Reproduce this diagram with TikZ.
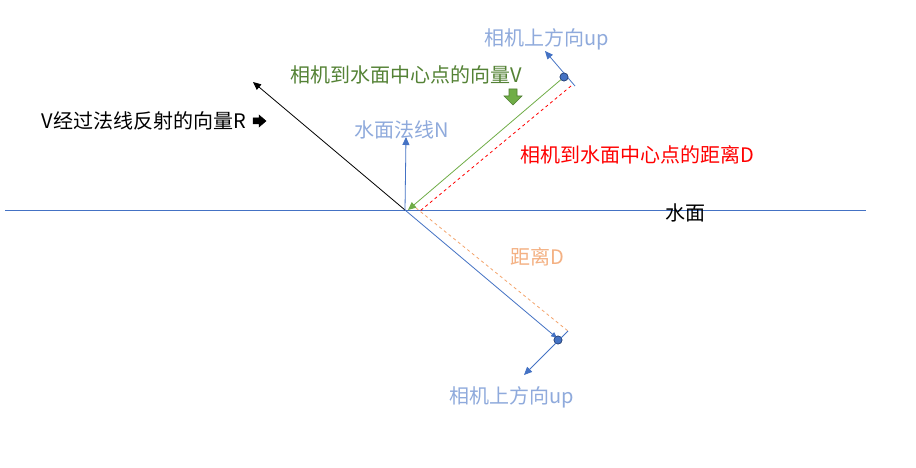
\documentclass[tikz,border=0pt]{standalone}
\usepackage{fontspec}
\setmainfont{Noto Sans CJK SC}
\usetikzlibrary{arrows.meta}
\definecolor{lineblue}{HTML}{4472C4}
\definecolor{lightblue}{HTML}{8FAADC}
\definecolor{vgreen}{HTML}{70AD47}
\definecolor{tgreen}{HTML}{548235}
\definecolor{dgreen}{HTML}{507E32}
\definecolor{torange}{HTML}{F4B183}
\definecolor{dorange}{HTML}{F4A46C}
\tikzset{
  lbl/.style={inner sep=0pt, font=\fontsize{20}{22}\selectfont},
  thin arrow/.style={-{Triangle[length=8pt,width=7pt]}, line width=0.8pt},
  cam/.style={circle, fill=lineblue, draw=lineblue!60!black, line width=0.6pt, minimum size=8pt, inner sep=0pt},
}
\begin{document}
\begin{tikzpicture}[x=1pt,y=-1pt]
\useasboundingbox[fill=white] (0,0) rectangle (916,468);
% key points
\coordinate (O) at (405,210);
\coordinate (Wl) at (5,210);
\coordinate (Wr) at (866,210);
\coordinate (Rtip) at (253,82);
\coordinate (Ntip) at (406,137);
\coordinate (Vtip) at (408,210);
\coordinate (Uup) at (545,51);
\coordinate (Uend) at (575,86);
\coordinate (RedA) at (571,86);
\coordinate (RedB) at (420,211);
\coordinate (Lcam) at (557,338);
\coordinate (Lend) at (568,331);
\coordinate (Ltip) at (524,375);
\coordinate (OrA) at (416,208);
\coordinate (OrB) at (568,331);
\node[cam] (C) at (564,77) {};
\node[cam] (C2) at (558,340) {};
% water surface
\draw[lineblue, line width=0.8pt] (Wl) -- (Wr);
% reflected vector R
\draw[black, thin arrow] (O) -- (Rtip);
% normal
\draw[lineblue, thin arrow] (O) -- (Ntip);
% red dashed distance
\draw[red, line width=0.8pt, dash pattern=on 3pt off 3pt] (RedA) -- (RedB);
% orange dashed distance
\draw[dorange, line width=0.8pt, dash pattern=on 3pt off 3pt] (OrA) -- (OrB);
% vector V
\draw[vgreen, thin arrow] (C) -- (Vtip);
% upper camera up
\draw[lineblue, thin arrow] (Uend) -- (Uup);
% lower reflected line
\draw[lineblue, -{Triangle[length=6pt,width=5pt]}, line width=0.8pt] (O) -- (Lcam);
\node[cam] at (C2) {};
\draw[lineblue, thin arrow] (Lend) -- (Ltip);
\node[cam] at (C) {};
% block arrows
\filldraw[fill=vgreen, draw=dgreen, line width=0.6pt]
  (509,89) -- (517,89) -- (517,96) -- (522,96) -- (513,105) -- (504,96) -- (509,96) -- cycle;
\filldraw[fill=black, draw=black, line width=0.5pt]
  (253,118) -- (259,118) -- (259,115) -- (266,121) -- (259,127) -- (259,124) -- (253,124) -- cycle;
% labels
\node[lbl, text=tgreen] (tV) at (406,75) {相机到水面中心点的向量V};
\node[lbl, text=lightblue] (tU1) at (547,39) {相机上方向up};
\node[lbl, text=lightblue] (tN) at (402,130) {水面法线N};
\node[lbl, text=red] (tD) at (637,155) {相机到水面中心点的距离D};
\node[lbl, text=black] (tW) at (685,213) {水面};
\node[lbl, text=black] (tR) at (144,121) {V经过法线反射的向量R};
\node[lbl, text=torange] (tD2) at (537,257) {距离D};
\node[lbl, text=lightblue] (tU2) at (512,397) {相机上方向up};
\end{tikzpicture}
\end{document}
